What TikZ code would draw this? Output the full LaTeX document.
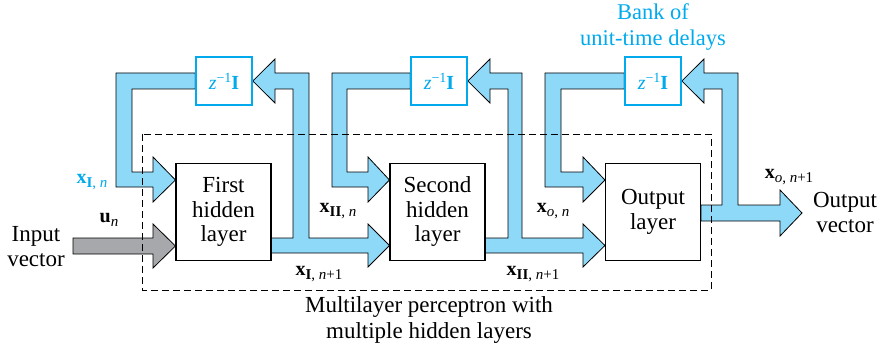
\documentclass[tikz,border=0pt]{standalone}
\usepackage{fontspec}
\setmainfont{Liberation Serif}
\usetikzlibrary{backgrounds}
\definecolor{fillblue}{RGB}{142,216,248}
\definecolor{txtblue}{RGB}{0,170,236}
\definecolor{arrgray}{RGB}{166,168,171}
\newcommand{\vlab}[2]{\textbf{x}\raisebox{-0.4ex}{\fontsize{15}{15}\selectfont #2}}
\newcommand{\ulab}[1]{\textbf{u}\raisebox{-0.4ex}{\fontsize{15}{15}\selectfont #1}}
\newcommand{\zinv}{\textit{z}\raisebox{0.75ex}{\fontsize{14}{14}\selectfont −1}\textbf{I}}
\tikzset{
  fat/.style={fill=fillblue, draw=black, line width=0.8pt, line join=miter},
  grayfat/.style={fill=arrgray, draw=black, line width=0.8pt, line join=miter},
  layer/.style={draw, line width=1.1pt, fill=white, minimum width=95pt, minimum height=97pt,
    align=center, font=\fontsize{23}{24.5}\selectfont, inner sep=0pt},
  delay/.style={draw=txtblue, line width=1.6pt, fill=white, minimum width=56pt, minimum height=48pt,
    text=txtblue, font=\fontsize{20}{22}\selectfont, inner sep=0pt},
  lbl/.style={font=\fontsize{23}{25}\selectfont, align=center, inner sep=0pt},
  mlbl/.style={font=\fontsize{20}{22}\selectfont, inner sep=0pt},
  frame/.style={draw, line width=0.8pt, dash pattern=on 7pt off 4pt}
}
\begin{document}
\begin{tikzpicture}[x=1pt,y=-1pt]
\useasboundingbox (0,0) rectangle (883,350);
% layer boxes
\node[layer] (L1) at (223.5,212) {First\\hidden\\layer};
\node[layer] (L2) at (437.5,212) {Second\\hidden\\layer};
\node[layer] (L3) at (653,212) {Output\\layer};
% delays
\node[delay] (D1) at (224,81) {\zinv};
\node[delay] (D2) at (439,81) {\zinv};
\node[delay] (D3) at (653,81) {\zinv};
\coordinate (outtip) at (802,213);
\coordinate (instart) at (73,246);
\begin{pgfonlayer}{background}
% loop 1
\draw[fat] (L1.east |- 0,238) -- (293,238) -- (293,89) -- (275,89) -- (275,103) -- (D1.east)
  -- (275,59) -- (275,73) -- (309,73) -- (309,238) -- (368,238) -- (368,224)
  -- (L2.west |- 0,245.5) -- (368,267) -- (368,253) -- (L1.east |- 0,253) -- cycle;
\draw[fat] (D1.west |- 0,73) -- (116,73) -- (116,187) -- (153,187) -- (153,202)
  -- (L1.west |- 0,180) -- (153,157) -- (153,172) -- (132,172) -- (132,89) -- (D1.west |- 0,89) -- cycle;
% loop 2
\draw[fat] (L2.east |- 0,238) -- (508,238) -- (508,89) -- (490,89) -- (490,103) -- (D2.east)
  -- (490,59) -- (490,73) -- (522,73) -- (522,238) -- (583,238) -- (583,224)
  -- (L3.west |- 0,245.5) -- (583,267) -- (583,253) -- (L2.east |- 0,253) -- cycle;
\draw[fat] (D2.west |- 0,73) -- (332,73) -- (332,187) -- (368,187) -- (368,202)
  -- (L2.west |- 0,180) -- (368,157) -- (368,172) -- (347,172) -- (347,89) -- (D2.west |- 0,89) -- cycle;
% loop 3
\draw[fat] (L3.east |- 0,205) -- (722,205) -- (722,89) -- (704,89) -- (704,103) -- (D3.east)
  -- (704,59) -- (704,73) -- (738,73) -- (738,205) -- (780,205) -- (780,190)
  -- (outtip) -- (780,236) -- (780,221) -- (L3.east |- 0,221) -- cycle;
\draw[fat] (D3.west |- 0,73) -- (545,73) -- (545,187) -- (583,187) -- (583,202)
  -- (L3.west |- 0,180) -- (583,157) -- (583,172) -- (561,172) -- (561,89) -- (D3.west |- 0,89) -- cycle;
% input arrow
\draw[grayfat] (instart |- 0,238) -- (153,238) -- (153,224) -- (L1.west |- 0,246) -- (153,268)
  -- (153,254) -- (instart |- 0,254) -- cycle;
\end{pgfonlayer}
% dashed frame
\draw[frame] (142,134) rectangle (711,290);
% labels
\node[lbl, text=txtblue, font=\fontsize{22.5}{26}\selectfont] (bank) at (653,27) {Bank of\\unit-time delays};
\node[lbl] (invec) at (36,247) {Input\\vector};
\node[lbl] (outvec) at (845,212) {Output\\vector};
\node[lbl] (mlp) at (429,320) {Multilayer perceptron with\\multiple hidden layers};
\node[mlbl, text=txtblue] (xIn) at (92,182) {\vlab{x}{\textbf{I}, \textit{n}}};
\node[mlbl] (un) at (109,220) {\ulab{\textit{n}}};
\node[mlbl] (xIn1) at (319,274) {\vlab{x}{\textbf{I}, \textit{n}+1}};
\node[mlbl] (xIIn) at (338,211) {\vlab{x}{\textbf{II}, \textit{n}}};
\node[mlbl] (xIIn1) at (533,274) {\vlab{x}{\textbf{II}, \textit{n}+1}};
\node[mlbl] (xon) at (553,211) {\vlab{x}{\textit{o}, \textit{n}}};
\node[mlbl] (xon1) at (789,177) {\vlab{x}{\textit{o}, \textit{n}+1}};
\end{tikzpicture}
\end{document}
